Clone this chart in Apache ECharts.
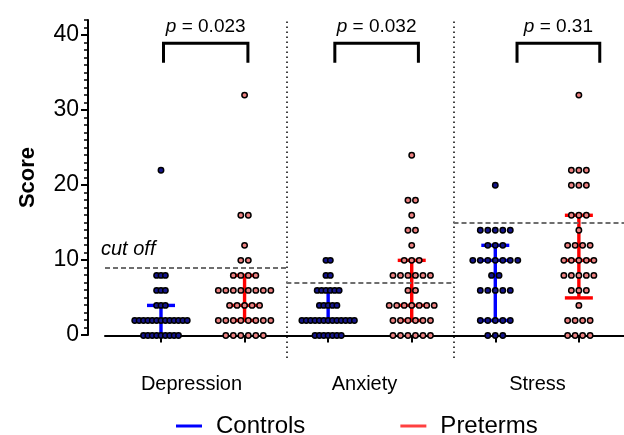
<!DOCTYPE html>
<html><head><meta charset="utf-8">
<script src="https://cdn.jsdelivr.net/npm/echarts@6.0.0/dist/echarts.min.js"></script>
<style>html,body{margin:0;padding:0;background:#fff}#c{width:624px;height:435px}</style>
</head><body><div id="c"></div>
<script>
const categories = ['Depression', 'Anxiety', 'Stress'];
const groupNames = ['Controls', 'Preterms'];
// [score, number of participants at that score]
const depressionControls = [[0,9],[2,13],[4,3],[6,3],[8,3],[22,1]];
const depressionPreterms = [[0,6],[2,8],[4,5],[6,8],[8,4],[10,2],[12,1],[16,2],[32,1]];
const anxietyControls = [[0,7],[2,13],[4,5],[6,6],[8,2],[10,2]];
const anxietyPreterms = [[0,6],[2,6],[4,7],[6,2],[8,6],[10,3],[12,1],[14,2],[16,1],[18,2],[24,1]];
const stressControls = [[0,3],[2,5],[6,5],[8,2],[10,7],[12,3],[14,5],[20,1]];
const stressPreterms = [[0,4],[2,4],[4,1],[6,3],[8,5],[10,5],[12,4],[14,1],[16,3],[20,3],[22,3],[32,1]];
// median with interquartile range: [Q1, median, Q3]
const controlsIQR = [[0,2,4],[2,2,6],[2,10,12]];
const pretermsIQR = [[2,4,8],[2,4,10],[5,10,16]];
const cutOffs = [9, 7, 15];
const pLabels = ['0.023', '0.032', '0.31'];
const bracketX = [[1.03,2.04],[3.08,4.08],[5.26,6.25]];
const bracketY = [36.3, 38.9];
const yTicks = [0, 10, 20, 30, 40];

const FONT = '"Liberation Sans", Arial, Helvetica, sans-serif';
const XMIN = 0.33, XMAX = 6.54;
const STEP = 0.0897, SPAN = 0.628;
const controlsRows = [depressionControls, anxietyControls, stressControls];
const pretermsRows = [depressionPreterms, anxietyPreterms, stressPreterms];

function swarm(rows, cx) {
  const maxN = Math.max.apply(null, rows.map(r => r[1]));
  const step = maxN > 1 ? Math.min(STEP, SPAN / (maxN - 1)) : STEP;
  const pts = [];
  rows.forEach(([v, n]) => {
    for (let j = 0; j < n; j++) pts.push([cx + (j - (n - 1) / 2) * step, v]);
  });
  return pts;
}
const controlsPts = [], pretermsPts = [];
categories.forEach((c, s) => {
  controlsPts.push(...swarm(controlsRows[s], 2 * s + 1));
  pretermsPts.push(...swarm(pretermsRows[s], 2 * s + 2));
});
const controlsBars = controlsIQR.map((q, s) => [2 * s + 1].concat(q));
const pretermsBars = pretermsIQR.map((q, s) => [2 * s + 2].concat(q));

function errorBar(color) {
  return function (params, api) {
    const x = api.value(0);
    const lo = api.coord([x, api.value(1)]);
    const md = api.coord([x, api.value(2)]);
    const hi = api.coord([x, api.value(3)]);
    const st = { stroke: color, lineWidth: 3.4 };
    const cw = 14, mw = 17;
    return { type: 'group', children: [
      { type: 'line', shape: { x1: lo[0], y1: lo[1], x2: hi[0], y2: hi[1] }, style: st },
      { type: 'line', shape: { x1: lo[0] - cw, y1: lo[1], x2: lo[0] + cw, y2: lo[1] }, style: st },
      { type: 'line', shape: { x1: hi[0] - cw, y1: hi[1], x2: hi[0] + cw, y2: hi[1] }, style: st },
      { type: 'line', shape: { x1: md[0] - mw, y1: md[1], x2: md[0] + mw, y2: md[1] }, style: st }
    ]};
  };
}

const sepLines = categories.slice(1).map((c, s) => ({ xAxis: 2 * s + 2.5 }));
const cutLines = cutOffs.map((v, s) => [
  { coord: [s === 0 ? XMIN : 2 * s + 0.5, v],
    label: s === 0 ? { show: true, formatter: 'cut off', position: 'insideStartTop', distance: [ -4, 8 ],
      fontStyle: 'italic', fontSize: 20, color: '#000', fontFamily: FONT } : { show: false } },
  { coord: [s === 2 ? XMAX : 2 * s + 2.5, v] }
]);

const chart = echarts.init(document.getElementById('c'), null, { renderer: 'canvas' });
chart.setOption({
  animation: false,
  backgroundColor: '#fff',
  textStyle: { fontFamily: FONT },
  grid: [
    { left: 105, right: 0, top: 20, bottom: 77 },
    { left: 105, right: 0, top: 20, bottom: 100 }
  ],
  legend: {
    left: 171, top: 409, itemWidth: 26, itemHeight: 3, itemGap: 95,
    textStyle: { fontSize: 24, color: '#000', fontFamily: FONT, padding: [0, 0, 0, 9] },
    data: [
      { name: 'Controls', icon: 'rect', itemStyle: { color: '#0000ff', borderWidth: 0 } },
      { name: 'Preterms', icon: 'rect', itemStyle: { color: '#ff4040', borderWidth: 0 } }
    ]
  },
  xAxis: [
    { gridIndex: 0, type: 'value', min: XMIN, max: XMAX,
      axisLine: { show: true, lineStyle: { color: '#000', width: 2 } },
      axisTick: { show: true, customValues: [1, 2, 3, 4, 5, 6], length: 7, lineStyle: { color: '#000', width: 2 } },
      axisLabel: { show: false }, splitLine: { show: false } },
    { gridIndex: 0, type: 'category', position: 'bottom', data: categories, boundaryGap: true,
      axisLine: { show: false }, axisTick: { show: false }, splitLine: { show: false },
      axisLabel: { fontSize: 20, color: '#000', margin: 16, fontFamily: FONT } },
    { gridIndex: 1, type: 'value', min: XMIN, max: XMAX, show: false }
  ],
  yAxis: [
    { gridIndex: 0, type: 'value', min: -3, max: 42, show: false },
    { gridIndex: 1, type: 'value', position: 'left', min: 0, max: 42, interval: 1, offset: 17,
      axisLine: { show: true, lineStyle: { color: '#000', width: 2 } },
      axisTick: { show: true, length: 4, lineStyle: { color: '#000', width: 1.5 } },
      axisLabel: { show: false }, splitLine: { show: false } },
    { gridIndex: 1, type: 'value', position: 'left', min: 0, max: 42, offset: 17,
      axisLine: { show: false },
      axisTick: { show: true, customValues: yTicks, length: 7, lineStyle: { color: '#000', width: 2 } },
      axisLabel: { customValues: yTicks, fontSize: 23, color: '#000', margin: 9, fontFamily: FONT },
      splitLine: { show: false },
      name: 'Score', nameLocation: 'middle', nameGap: 49, nameRotate: 90,
      nameTextStyle: { fontWeight: 'bold', fontSize: 22, color: '#000', fontFamily: FONT } }
  ],
  series: [
    { name: 'Controls', type: 'custom', xAxisIndex: 0, yAxisIndex: 0, z: 2, clip: false,
      renderItem: errorBar('#0000ff'), data: controlsBars },
    { name: 'Preterms', type: 'custom', xAxisIndex: 0, yAxisIndex: 0, z: 2, clip: false,
      renderItem: errorBar('#ff0000'), data: pretermsBars },
    { name: 'Controls', type: 'scatter', xAxisIndex: 0, yAxisIndex: 0, z: 3, symbolSize: 5.4,
      itemStyle: { color: '#14148c', borderColor: '#000', borderWidth: 1.5, opacity: 1 },
      data: controlsPts,
      markLine: { silent: true, symbol: 'none', animation: false, label: { show: false },
        lineStyle: { color: '#000', width: 1.5, type: [1.5, 3.5] }, data: sepLines } },
    { name: 'Preterms', type: 'scatter', xAxisIndex: 0, yAxisIndex: 0, z: 3, symbolSize: 5.4,
      itemStyle: { color: '#ee8080', borderColor: '#000', borderWidth: 1.5, opacity: 1 },
      data: pretermsPts,
      markLine: { silent: true, symbol: 'none', animation: false, label: { show: false },
        lineStyle: { color: '#6e6e6e', width: 2, type: [5, 3] }, data: cutLines } },
    { type: 'custom', xAxisIndex: 0, yAxisIndex: 0, z: 4, clip: false, silent: true,
      data: bracketX,
      renderItem: function (params, api) {
        const i = params.dataIndex;
        const bl = api.coord([api.value(0), bracketY[0]]);
        const tl = api.coord([api.value(0), bracketY[1]]);
        const tr = api.coord([api.value(1), bracketY[1]]);
        const br = api.coord([api.value(1), bracketY[0]]);
        return { type: 'group', children: [
          { type: 'polyline', shape: { points: [bl, tl, tr, br] },
            style: { stroke: '#000', lineWidth: 3, fill: null, lineJoin: 'miter' } },
          { type: 'text', x: (tl[0] + tr[0]) / 2, y: tl[1] - 17,
            style: { text: '{i|p} = ' + pLabels[i],
              rich: { i: { fontStyle: 'italic', fontSize: 19, fontFamily: FONT, fill: '#000' } },
              fontSize: 19, fontFamily: FONT, fill: '#000', align: 'center', verticalAlign: 'middle' } }
        ]};
      } }
  ]
});
</script></body></html>
